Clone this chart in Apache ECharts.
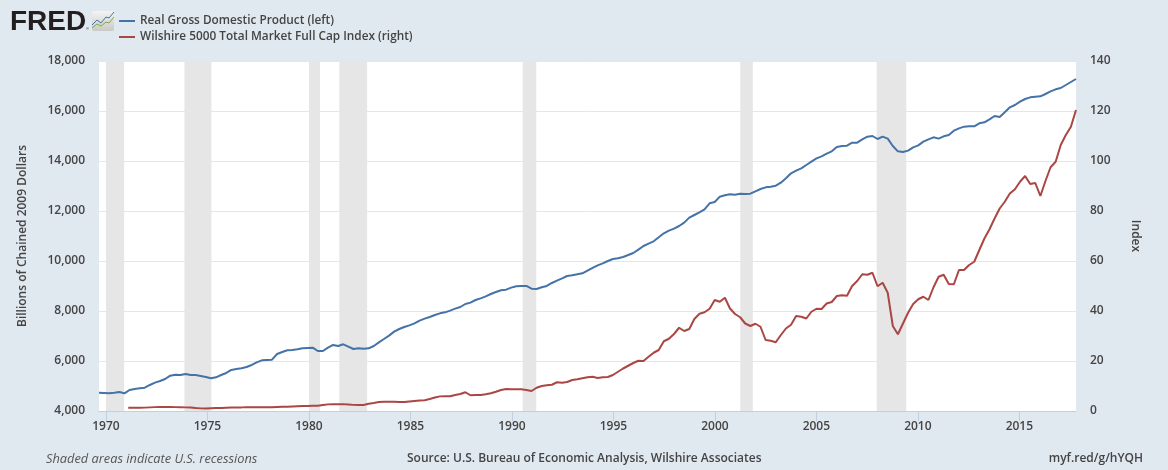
<!DOCTYPE html>
<html>
<head>
<meta charset="utf-8">
<title>FRED</title>
<script src="https://cdn.jsdelivr.net/npm/echarts@6/dist/echarts.min.js"></script>
<style>
  html, body { margin: 0; padding: 0; background: #e1e9f0; }
  #chart { width: 1168px; height: 470px; }
</style>
</head>
<body>
<div id="chart"></div>
<script>
// quarterly values, 1969 Q4 to 2017 Q3
var gdp = [
  4734, 4721, 4708, 4734, 4761, 4708, 4841, 4881, 4908, 4934, 5041, 5134, 5201, 5280, 5414, 5454,
  5441, 5481, 5441, 5441, 5401, 5361, 5307, 5348, 5441, 5521, 5641, 5681, 5707, 5761, 5841, 5947,
  6027, 6041, 6054, 6281, 6361, 6427, 6441, 6467, 6507, 6521, 6534, 6401, 6401, 6534, 6641, 6601,
  6667, 6574, 6481, 6507, 6494, 6507, 6601, 6747, 6881, 7014, 7174, 7280, 7360, 7427, 7507, 7614,
  7694, 7760, 7840, 7907, 7947, 8014, 8094, 8160, 8280, 8334, 8440, 8507, 8587, 8681, 8761, 8827,
  8854, 8934, 8987, 9001, 9001, 8894, 8881, 8947, 9001, 9121, 9214, 9307, 9401, 9427, 9467, 9507,
  9614, 9721, 9827, 9907, 10001, 10081, 10107, 10161, 10241, 10321, 10454, 10601, 10694, 10787, 10947, 11107,
  11214, 11294, 11400, 11534, 11734, 11840, 11947, 12067, 12307, 12360, 12573, 12627, 12667, 12654, 12694, 12680,
  12694, 12787, 12880, 12947, 12974, 13014, 13134, 13307, 13507, 13614, 13707, 13841, 13974, 14107, 14187, 14294,
  14387, 14561, 14601, 14614, 14734, 14734, 14867, 14974, 15000, 14880, 14974, 14894, 14601, 14387, 14361, 14414,
  14547, 14627, 14774, 14867, 14947, 14894, 14987, 15040, 15214, 15307, 15374, 15387, 15387, 15507, 15547, 15667,
  15800, 15760, 15947, 16147, 16240, 16374, 16480, 16547, 16574, 16587, 16680, 16787, 16867, 16920, 17040, 17160,
  17280
];
// starts six quarters after gdp
var wilshire = [
  1.33, 1.33, 1.33, 1.35, 1.45, 1.55, 1.6, 1.6, 1.65, 1.55, 1.5, 1.45, 1.4, 1.2,
  1.05, 1.0, 1.1, 1.2, 1.2, 1.3, 1.4, 1.45, 1.45, 1.5, 1.5, 1.5, 1.5, 1.5, 1.5, 1.6,
  1.7, 1.7, 1.8, 1.9, 2.0, 2.0, 2.1, 2.1, 2.4, 2.65, 2.7, 2.7, 2.75, 2.6, 2.45, 2.4,
  2.4, 2.9, 3.2, 3.6, 3.7, 3.75, 3.7, 3.6, 3.6, 3.8, 4.0, 4.2, 4.3, 4.8, 5.4, 5.85,
  5.9, 5.9, 6.4, 6.8, 7.5, 6.3, 6.4, 6.4, 6.7, 7.1, 7.7, 8.4, 8.8, 8.7, 8.7, 8.7,
  8.4, 8.0, 9.3, 10.0, 10.3, 10.5, 11.5, 11.3, 11.6, 12.4, 12.7, 13.1, 13.5, 13.7, 13.2,
  13.5, 13.6, 14.4, 15.7, 17.0, 18.1, 19.2, 20.1, 20.0, 21.7, 23.3, 24.4, 27.9, 28.9, 30.8, 33.3,
  32.0, 32.8, 36.8, 38.9, 39.5, 40.9, 44.4, 43.7, 45.3, 41.0, 38.8, 37.5, 35.0, 34.0, 34.9, 33.7,
  28.4, 28.1, 27.5, 30.4, 33.0, 34.5, 38.0, 37.7, 37.0, 39.7, 40.9, 40.8, 43.0, 43.6, 46.0, 46.3,
  46.1, 50.0, 52.0, 54.7, 54.5, 55.3, 49.9, 51.3, 47.3, 34.0, 30.7, 35.0, 39.3, 42.8, 44.7, 45.7,
  44.4, 49.5, 53.7, 54.5, 50.8, 50.7, 56.4, 56.4, 58.4, 59.7, 64.4, 69.0, 72.7, 77.0, 81.0, 83.7,
  87.0, 88.7, 91.7, 94.0, 90.8, 91.2, 86.0, 92.0, 97.5, 99.7, 106.4, 110.4, 113.7, 120.4
];
var recessions = [
  [1970.0, 1970.9], [1973.87, 1975.2], [1980.0, 1980.55], [1981.5, 1982.87],
  [1990.53, 1991.2], [2001.25, 2001.87], [2007.97, 2009.43]
];
var yearTicks = [1970, 1975, 1980, 1985, 1990, 1995, 2000, 2005, 2010, 2015];
var xMin = 1969.66, xMax = 2017.79;
var wilStart = 1971.1;

var step = (xMax - xMin) / (gdp.length - 1);
var gdpData = gdp.map(function (v, i) { return [xMin + i * step, v]; });
var wilData = wilshire.map(function (v, i) { return [i == 0 ? wilStart : xMin + (i + 6) * step, v]; });

var textCol = '#444444';
var font = '"Open Sans", sans-serif';

var mychart = echarts.init(document.getElementById('chart'), null, { renderer: 'canvas' });
var option = {
  animation: false,
  backgroundColor: '#e1e9f0',
  textStyle: { fontFamily: font },
  grid: { left: 99, right: 92, top: 61, bottom: 59, show: true, backgroundColor: '#ffffff', borderWidth: 0 },
  legend: {
    orient: 'vertical', left: 119, top: 13, padding: 0, icon: 'rect', itemWidth: 16, itemHeight: 2, itemGap: 0,
    textStyle: { color: textCol, fontSize: 11.8, fontWeight: 600, fontFamily: font, lineHeight: 16, height: 16 }
  },
  xAxis: {
    type: 'value', min: xMin, max: xMax,
    splitLine: { show: false },
    axisLine: { lineStyle: { color: '#c0d0e0', width: 1 } },
    axisTick: { length: 10, lineStyle: { color: '#c0d0e0' }, customValues: yearTicks },
    axisLabel: { customValues: yearTicks, color: textCol, fontSize: 12, fontWeight: 600, margin: 10,
      formatter: function (v) { return String(v); } }
  },
  yAxis: [
    {
      type: 'value', min: 4000, max: 18000, interval: 2000,
      name: 'Billions of Chained 2009 Dollars', nameLocation: 'middle', nameGap: 70, nameRotate: 90,
      nameTextStyle: { color: textCol, fontSize: 12, fontWeight: 600 },
      splitLine: { lineStyle: { color: '#e6e6e6', width: 1 } },
      axisLine: { show: false }, axisTick: { show: false },
      axisLabel: { color: textCol, fontSize: 12, fontWeight: 600, margin: 14, padding: [4, 0, 0, 0],
        formatter: function (v) { return v.toLocaleString('en-US'); } }
    },
    {
      type: 'value', min: 0, max: 140, interval: 20, position: 'right',
      name: 'Index', nameLocation: 'middle', nameGap: 53, nameRotate: -90,
      nameTextStyle: { color: textCol, fontSize: 12, fontWeight: 600 },
      splitLine: { show: false }, axisLine: { show: false }, axisTick: { show: false },
      axisLabel: { color: textCol, fontSize: 12, fontWeight: 600, margin: 14, padding: [4, 0, 0, 0] }
    }
  ],
  series: [
    {
      name: 'Real Gross Domestic Product (left)', type: 'line', data: gdpData, yAxisIndex: 0,
      showSymbol: false, z: 3, color: '#4572a7', lineStyle: { width: 2, color: '#4572a7' },
      markArea: {
        silent: true, itemStyle: { color: '#e6e6e6' },
        data: recessions.map(function (r) { return [{ xAxis: r[0] }, { xAxis: r[1] }]; })
      }
    },
    {
      name: 'Wilshire 5000 Total Market Full Cap Index (right)', type: 'line', data: wilData, yAxisIndex: 1,
      showSymbol: false, z: 3, color: '#aa4643', lineStyle: { width: 2, color: '#aa4643' }
    }
  ],
  graphic: [
    // logo
    { type: 'text', left: 10, top: 8, style: { text: 'FRED', fill: '#231f20', font: '900 28px "Liberation Sans"' } },
    { type: 'text', left: 86, top: 27, style: { text: '®', fill: '#231f20', font: '4px "Liberation Sans"' } },
    { type: 'rect', shape: { x: 92, y: 11, width: 22, height: 20, r: 2 },
      style: { fill: new echarts.graphic.LinearGradient(0, 0, 0, 1, [{ offset: 0, color: '#f4f4f2' }, { offset: 1, color: '#c8cac4' }]) } },
    { type: 'polyline', shape: { points: [[92, 25], [97, 20], [101, 23], [106, 17], [109, 18], [114, 12]] }, style: { stroke: '#4572a7', fill: null, lineWidth: 1 } },
    { type: 'polyline', shape: { points: [[92, 28], [97, 24], [101, 26], [106, 22], [109, 23], [114, 17]] }, style: { stroke: '#7fa84d', fill: null, lineWidth: 1 } },
    // footer
    { type: 'text', left: 46, top: 453, style: { text: 'Shaded areas indicate U.S. recessions', fill: '#555555', font: 'italic 12.8px "Open Sans"' } },
    { type: 'text', left: 407, top: 453, style: { text: 'Source: U.S. Bureau of Economic Analysis, Wilshire Associates', fill: textCol, font: '600 12px "Open Sans"' } },
    { type: 'text', right: 25, top: 453, style: { text: 'myf.red/g/hYQH', fill: textCol, font: '600 12px "Open Sans"' } }
  ]
};
mychart.setOption(option);
</script>
</body>
</html>
